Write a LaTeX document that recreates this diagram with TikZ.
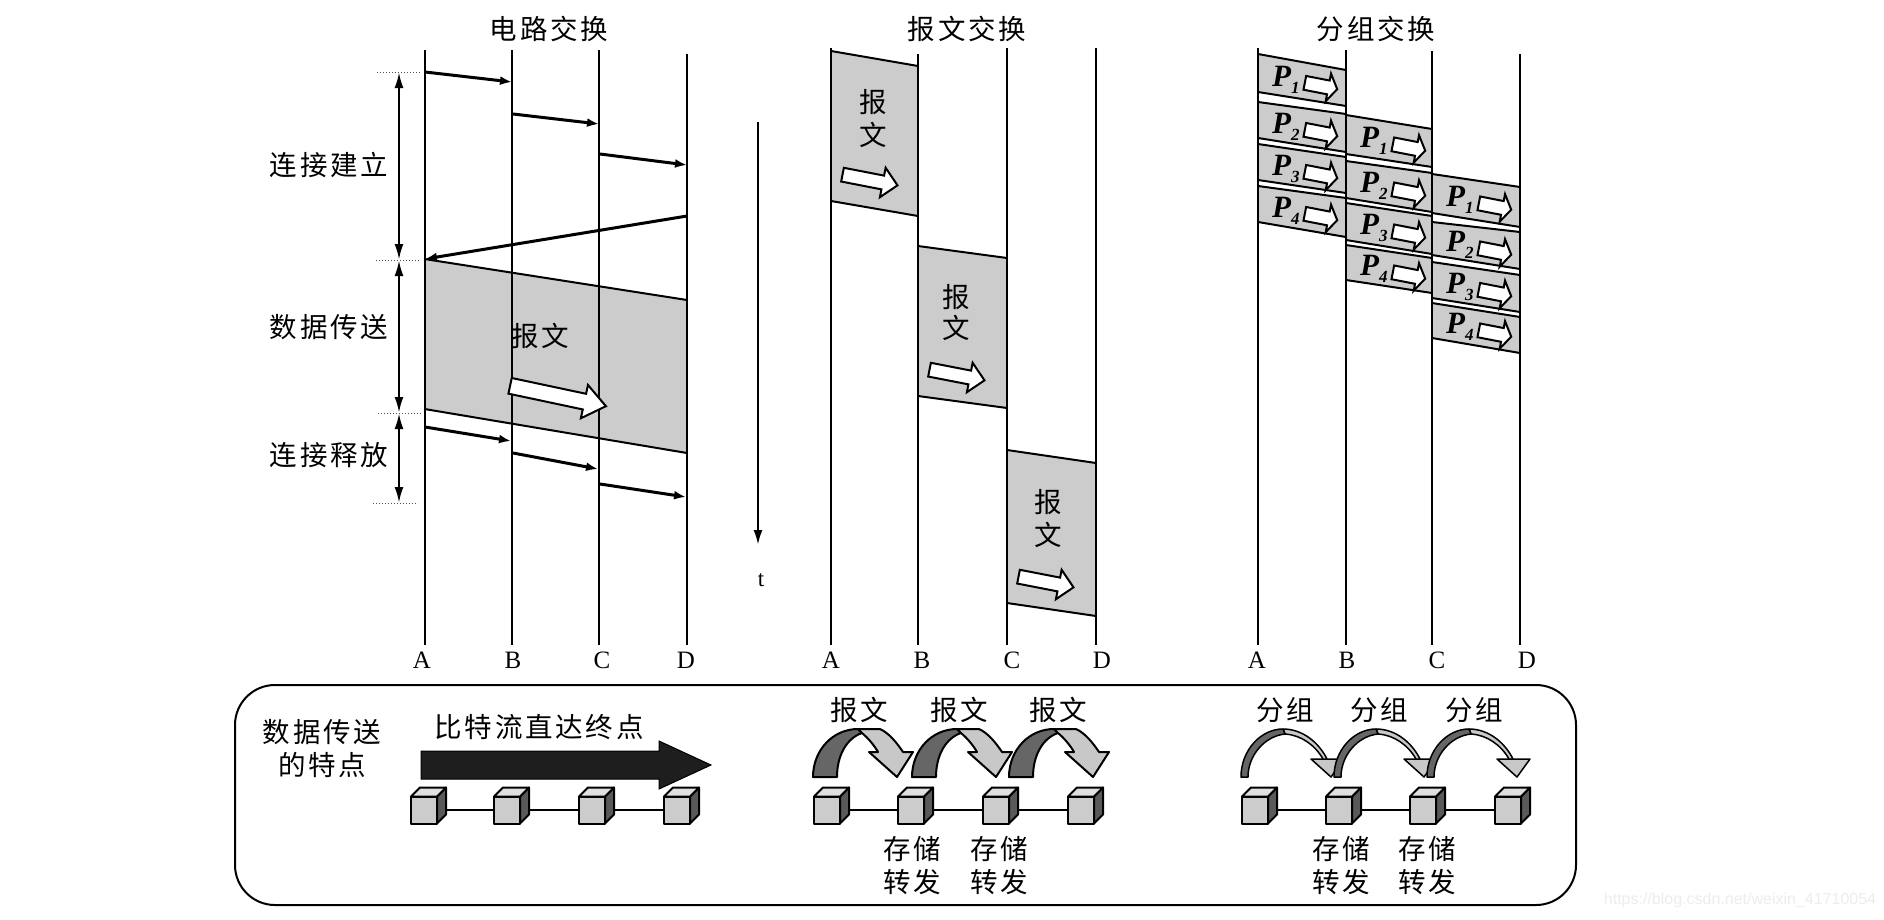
\documentclass[tikz,border=0pt]{standalone}
\usepackage{fontspec}
\setmainfont{Liberation Serif}
\newfontfamily\cjkf[LetterSpace=10]{Noto Sans CJK SC}
\newfontfamily\wmf{Liberation Sans}
\usetikzlibrary{arrows.meta}
\definecolor{shade}{HTML}{CCCCCC}
\definecolor{darkfill}{HTML}{1E1E1E}
\definecolor{midfill}{HTML}{666666}
\definecolor{lightfill}{HTML}{C8C8C8}
\tikzset{
  life/.style={line width=2pt,black},
  msg/.style={line width=3pt,-{Latex[length=12pt,width=9pt]}},
  dim/.style={line width=2.4pt,{Latex[length=16pt,width=9pt]}-{Latex[length=16pt,width=9pt]}},
  tick/.style={line width=1pt,dotted,black!70},
  slab/.style={fill=shade,draw=none},
  slabedge/.style={line width=2pt,black},
  cjk/.style={font=\fontsize{27.5}{33}\selectfont\cjkf,align=center,inner sep=0pt},
  lat/.style={font=\fontsize{25}{30}\selectfont,inner sep=0pt},
  plabel/.style={font=\fontsize{31}{34}\selectfont\bfseries\itshape,inner sep=0pt,anchor=base west},
  whitearrow/.style={fill=white,draw=black,line width=2pt,line join=miter},
  cubeface/.style={draw=black,line width=2pt,line join=round},
  cubefront/.style={cubeface,fill=shade,minimum width=26pt,minimum height=27pt,inner sep=0pt,outer sep=0pt},
  link/.style={line width=1.8pt,black},
}
% centre x, centre y, rotation, half length, shaft half width, head half width, head length
\newcommand{\wharrow}[7]{%
  \begin{scope}[shift={({#1},{#2})},rotate=#3]
    \draw[whitearrow] (-#4,-#5) -- ({#4-#7},-#5) -- ({#4-#7},-#6) -- (#4,0) -- ({#4-#7},#6) -- ({#4-#7},#5) -- (-#4,#5) -- cycle;
  \end{scope}}
% name, left x, right x, top-l, top-r, bot-l, bot-r, sub
\newcommand{\pkt}[8]{%
  \path[slab] (#2,#4) -- (#3,#5) -- (#3,#7) -- (#2,#6) -- cycle;
  \draw[slabedge] (#2,#4) -- (#3,#5);
  \draw[slabedge] (#2,#6) -- (#3,#7);
  \pgfmathsetmacro{\midy}{(#4+#6)/2}
  \pgfmathsetmacro{\laby}{\midy+13}
  \pgfmathsetmacro{\arry}{\midy+13}
  \node[plabel] (#1) at ({#2+14},\laby) {P\raisebox{-7pt}{\fontsize{17}{17}\selectfont #8}};
  \wharrow{#2+63}{\arry}{-11}{16.5}{7}{14}{9}}
% name, left x of front
\newcommand{\cubenode}[2]{\node[cubefront] (#1) at ({#2+13},810) {};}
\newcommand{\cubeside}[1]{%
  \draw[cubeface,fill=black!65] (#1.north east) -- ++(9,-9) -- ++(0,27) -- (#1.south east) -- cycle;
  \draw[cubeface,fill=black!12] (#1.north west) -- ++(9,-9) -- ++(26,0) -- (#1.north east) -- cycle;}
% message hop arrow starting at x
\newcommand{\hopfat}[1]{%
  \begin{scope}[shift={(#1,0)}]
    \draw[line width=2pt,fill=midfill,line join=round] (0,777) .. controls (0,750) and (20,729) .. (45,729) -- (49,733) .. controls (34,738) and (24,755) .. (24,777) -- cycle;
    \draw[line width=2pt,fill=lightfill,line join=round] (45,729) -- (67,729) .. controls (76,733) and (84,743) .. (90,752) -- (100,752) -- (84,777) -- (56,752) -- (65,752) .. controls (61,745) and (55,738) .. (49,733) -- cycle;
  \end{scope}}
% packet hop arrow starting at x
\newcommand{\hopthin}[1]{%
  \begin{scope}[shift={(#1,0)}]
    \draw[line width=1.5pt,fill=lightfill,line join=round] (70,759) -- (103,759) -- (90,777) -- cycle;
    \draw[line width=1.5pt,fill=lightfill,line join=round] (42,729) .. controls (62,729) and (78,743) .. (86,759) -- (82,759) .. controls (74,745) and (60,735) .. (44,734) -- cycle;
    \draw[line width=1.5pt,fill=black!60,line join=round] (0,777) .. controls (0,750) and (20,729) .. (42,729) -- (44,734) .. controls (24,736) and (7,755) .. (7,777) -- cycle;
  \end{scope}}
\begin{document}
\begin{tikzpicture}[x=1pt,y=-1pt]
\useasboundingbox[fill=white] (0,0) rectangle (1884,919);
%% ---------- circuit switching
\path[slab] (424.5,259) -- (687,300) -- (687,453) -- (424.5,409) -- cycle;
\draw[slabedge] (424.5,259) -- (687,300);
\draw[slabedge] (424.5,409) -- (687,453);
\coordinate (ctA) at (424.5,50); \coordinate (cbA) at (424.5,645);
\coordinate (ctB) at (512,50);   \coordinate (cbB) at (512,645);
\coordinate (ctC) at (599,50);   \coordinate (cbC) at (599,645);
\coordinate (ctD) at (687,54);   \coordinate (cbD) at (687,645);
\foreach \n in {A,B,C,D} \draw[life] (ct\n) -- (cb\n);
\node[cjk] (ctitle) at (549,29) {电路交换};
\coordinate (m1s) at (425,72);  \coordinate (m1e) at (512,82);
\coordinate (m2s) at (513,114); \coordinate (m2e) at (599,124);
\coordinate (m3s) at (600,154); \coordinate (m3e) at (687,165);
\coordinate (m4s) at (687,216); \coordinate (m4e) at (425,259);
\coordinate (m5s) at (425,427); \coordinate (m5e) at (511,441);
\coordinate (m6s) at (513,453); \coordinate (m6e) at (598,469);
\coordinate (m7s) at (600,484); \coordinate (m7e) at (686,497);
\foreach \k in {1,...,7} \draw[msg] (m\k s) -- (m\k e);
\coordinate (d1) at (399,72); \coordinate (d2) at (399,260); \coordinate (d3) at (399,413); \coordinate (d4) at (399,503);
\draw[dim] (d1) -- (d2);
\draw[dim] (d2) -- (d3);
\draw[dim] (d3) -- (d4);
\coordinate (t1a) at (377,72);  \coordinate (t1b) at (420,72);
\coordinate (t2a) at (376,260); \coordinate (t2b) at (420,260);
\coordinate (t3a) at (378,413); \coordinate (t3b) at (422,413);
\coordinate (t4a) at (373,503); \coordinate (t4b) at (418,503);
\foreach \k in {1,...,4} \draw[tick] (t\k a) -- (t\k b);
\node[cjk] (l1) at (329,165) {连接建立};
\node[cjk] (l2) at (329,327) {数据传送};
\node[cjk] (l3) at (329,455) {连接释放};
\node[cjk] (cmsg) at (540,336) {报文};
\wharrow{558}{396}{-12}{49}{8}{17}{22}
%% ---------- time
\coordinate (ta) at (758,122); \coordinate (tb) at (758,545);
\draw[line width=2.4pt,-{Latex[length=15pt,width=9pt]}] (ta) -- (tb);
\node[lat,font=\fontsize{23}{28}\selectfont] (tlab) at (761,580) {t};
%% ---------- message switching
\path[slab] (831,51) -- (918,66) -- (918,216) -- (831,201) -- cycle;
\path[slab] (918,246) -- (1007,258) -- (1007,408) -- (918,396) -- cycle;
\path[slab] (1007,450) -- (1096,463) -- (1096,616) -- (1007,603) -- cycle;
\draw[slabedge] (831,51) -- (918,66); \draw[slabedge] (831,201) -- (918,216);
\draw[slabedge] (918,246) -- (1007,258); \draw[slabedge] (918,396) -- (1007,408);
\draw[slabedge] (1007,450) -- (1096,463); \draw[slabedge] (1007,603) -- (1096,616);
\coordinate (mtA) at (831,48);  \coordinate (mbA) at (831,645);
\coordinate (mtB) at (918,54);  \coordinate (mbB) at (918,645);
\coordinate (mtC) at (1007,48); \coordinate (mbC) at (1007,645);
\coordinate (mtD) at (1096,48); \coordinate (mbD) at (1096,645);
\foreach \n in {A,B,C,D} \draw[life] (mt\n) -- (mb\n);
\node[cjk] (mtitle) at (967,29) {报文交换};
\node[cjk] (ma1) at (873,102) {报};
\node[cjk] (ma2) at (873,135) {文};
\node[cjk] (mb1) at (956,297) {报};
\node[cjk] (mb2) at (956,328) {文};
\node[cjk] (mc1) at (1048,502) {报};
\node[cjk] (mc2) at (1048,535) {文};
\wharrow{870}{180}{-11}{28}{7}{15}{15}
\wharrow{957}{375}{-11}{28}{7}{15}{15}
\wharrow{1046}{582}{-11}{28}{7}{15}{15}
%% ---------- packet switching
\pkt{a1}{1258}{1346}{54}{70}{92}{106}{1}
\pkt{a2}{1258}{1346}{102}{114}{138}{152}{2}
\pkt{a3}{1258}{1346}{144}{157}{180}{193}{3}
\pkt{a4}{1258}{1346}{186}{198}{222}{237}{4}
\pkt{b1}{1346}{1432}{115}{129}{154}{167}{1}
\pkt{b2}{1346}{1432}{161}{173}{198}{212}{2}
\pkt{b3}{1346}{1432}{203}{216}{240}{254}{3}
\pkt{b4}{1346}{1432}{245}{258}{280}{293}{4}
\pkt{c1}{1432}{1520}{174}{187}{213}{227}{1}
\pkt{c2}{1432}{1520}{222}{232}{255}{269}{2}
\pkt{c3}{1432}{1520}{262}{275}{298}{312}{3}
\pkt{c4}{1432}{1520}{303}{317}{338}{353}{4}
\coordinate (ptA) at (1258,48); \coordinate (pbA) at (1258,645);
\coordinate (ptB) at (1346,50); \coordinate (pbB) at (1346,645);
\coordinate (ptC) at (1432,51); \coordinate (pbC) at (1432,645);
\coordinate (ptD) at (1520,54); \coordinate (pbD) at (1520,645);
\foreach \n in {A,B,C,D} \draw[life] (pt\n) -- (pb\n);
\node[cjk] (ptitle) at (1376,29) {分组交换};
%% ---------- A B C D labels
\node[lat] (ca) at (422,660) {A}; \node[lat] (cb) at (513,660) {B}; \node[lat] (cc) at (602,660) {C}; \node[lat] (cd) at (686,660) {D};
\node[lat] (na) at (831,660) {A}; \node[lat] (nb) at (922,660) {B}; \node[lat] (nc) at (1012,660) {C}; \node[lat] (nd) at (1102,660) {D};
\node[lat] (pa) at (1257,660) {A}; \node[lat] (pb) at (1347,660) {B}; \node[lat] (pc) at (1437,660) {C}; \node[lat] (pd) at (1527,660) {D};
%% ---------- bottom panel
\node[draw=black,line width=2pt,rounded corners=40pt,minimum width=1341pt,minimum height=220pt,inner sep=0pt] (panel) at (905.5,795) {};
\node[cjk] (feat) at (322,749) {数据传送\\的特点};
\node[cjk] (bits) at (539,727) {比特流直达终点};
\draw[line width=1pt,fill=darkfill] (421,751) -- (659,751) -- (659,741) -- (711,765) -- (659,789) -- (659,779) -- (421,779) -- cycle;
% cubes: circuit
\cubenode{u1}{411}\cubenode{u2}{494}\cubenode{u3}{579}\cubenode{u4}{664}
\draw[link] (u1) -- (u2); \draw[link] (u2) -- (u3); \draw[link] (u3) -- (u4);
\foreach \c in {u1,u2,u3,u4} {\cubeside{\c}}
% cubes: message
\cubenode{v1}{814}\cubenode{v2}{898}\cubenode{v3}{983}\cubenode{v4}{1068}
\draw[link] (v1) -- (v2); \draw[link] (v2) -- (v3); \draw[link] (v3) -- (v4);
\foreach \c in {v1,v2,v3,v4} {\cubeside{\c}}
% cubes: packet
\cubenode{w1}{1242}\cubenode{w2}{1326}\cubenode{w3}{1410}\cubenode{w4}{1495}
\draw[link] (w1) -- (w2); \draw[link] (w2) -- (w3); \draw[link] (w3) -- (w4);
\foreach \c in {w1,w2,w3,w4} {\cubeside{\c}}
\hopfat{813}\hopfat{912}\hopfat{1009}
\hopthin{1241}\hopthin{1334}\hopthin{1427}
\node[cjk] (h1) at (859,710) {报文};
\node[cjk] (h2) at (959,710) {报文};
\node[cjk] (h3) at (1058,710) {报文};
\node[cjk] (g1) at (1285,710) {分组};
\node[cjk] (g2) at (1379,710) {分组};
\node[cjk] (g3) at (1474,710) {分组};
\node[cjk] (s1) at (912,866) {存储\\转发};
\node[cjk] (s2) at (999,866) {存储\\转发};
\node[cjk] (s3) at (1341,866) {存储\\转发};
\node[cjk] (s4) at (1427,866) {存储\\转发};
\node[inner sep=0pt,text=black!7,font=\fontsize{16}{18}\selectfont\wmf] (wm) at (1740,900) {https://blog.csdn.net/weixin\_41710054};
\end{tikzpicture}
\end{document}
